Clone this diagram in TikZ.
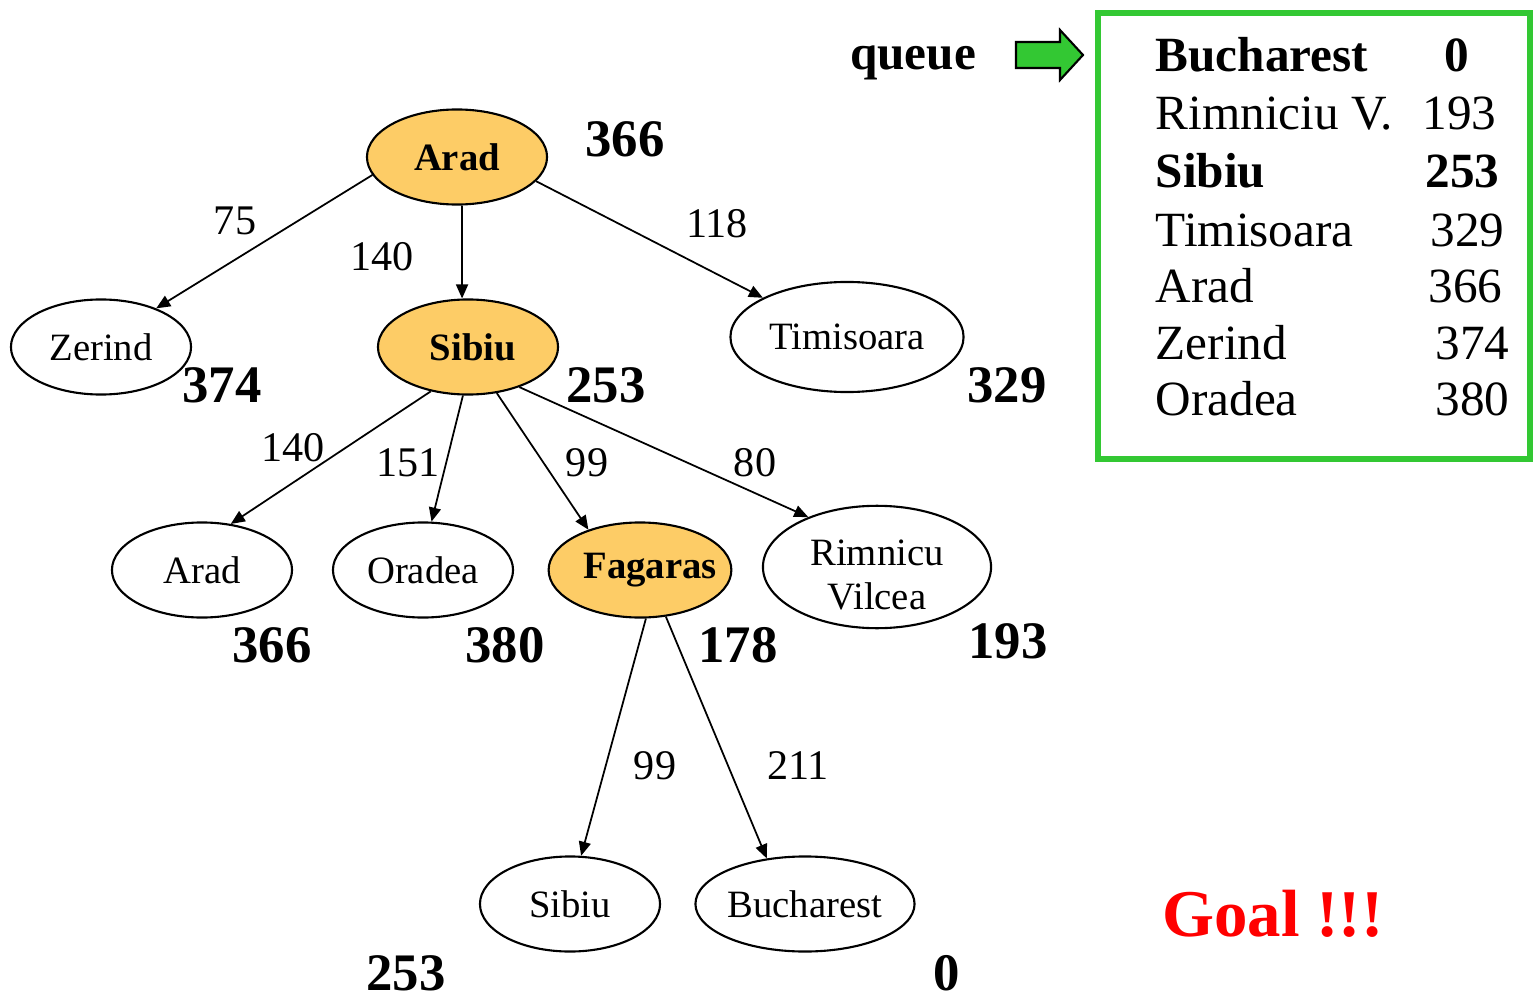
\documentclass[tikz,border=0pt]{standalone}
\usepackage{fontspec}
\setmainfont{Liberation Serif}
\usetikzlibrary{arrows.meta, shapes.geometric}
\definecolor{nodeorange}{RGB}{253,204,102}
\definecolor{queuegreen}{RGB}{51,200,51}
\tikzset{
  city/.style={draw, ellipse, line width=0.6pt, inner sep=0pt,
    minimum width=1.8cm, minimum height=0.95cm, align=center,
    font=\fontsize{11}{12.5}\selectfont},
  expanded/.style={city, fill=nodeorange, font=\fontsize{11}{12.5}\selectfont\bfseries},
  hval/.style={font=\fontsize{15}{15}\selectfont\bfseries},
  cost/.style={font=\fontsize{12}{12}\selectfont},
  edge/.style={-{Triangle[length=4pt,width=3.4pt]}, line width=0.5pt},
  qname/.style={anchor=base west, inner sep=0pt, font=\fontsize{14}{14}\selectfont},
  qval/.style={anchor=base east, inner sep=0pt, font=\fontsize{14}{14}\selectfont},
}
\begin{document}
\begin{tikzpicture}[x=0.01cm, y=-0.01cm]

    \useasboundingbox (0,0) rectangle (1533,997);

    % search tree
    \node[expanded] (arad) at (457,157) {Arad};
    \node[city] (zerind) at (101,347) {Zerind};
    \node[expanded] (sibiu) at (468,347) {~Sibiu};
    \node[city, minimum width=2.33cm, minimum height=1.1cm] (timisoara) at (847,337) {Timisoara};
    \node[city] (arad2) at (202,570) {Arad};
    \node[city] (oradea) at (423,570) {Oradea};
    \node[expanded, inner xsep=-0.12cm] (fagaras) at (640,570) {\hspace*{0.2cm}Fagaras};
    \node[city, minimum width=2.28cm, minimum height=1.21cm] (rimnicu) at (877,567) {\rule{0pt}{0.42cm}Rimnicu\\Vilcea};
    \node[city] (sibiu3) at (570,904) {Sibiu};
    \node[city, minimum width=2.19cm] (bucharest) at (805,904) {Bucharest};

    \draw[edge] (arad.192) -- (zerind.35);
    \draw[edge] (arad.276) -- (sibiu.97);
    \draw[edge] (arad.343) -- (timisoara.155);
    \draw[edge] (sibiu.230) -- (arad2.58);
    \draw[edge] (sibiu.264) -- (oradea.80);
    \draw[edge] (sibiu.302) -- (fagaras.142);
    \draw[edge] (sibiu.322) -- (rimnicu.144);
    \draw[edge] (fagaras.277) -- (sibiu3.77);
    \draw[edge] (fagaras.299) -- (bucharest.130);

    % step costs
    \node[cost] (c75) at (235,221) {75};
    \node[cost] (c140) at (382,257) {140};
    \node[cost] (c118) at (717,224) {118};
    \node[cost] (c140b) at (293,448) {140};
    \node[cost] (c151) at (408,463) {151};
    \node[cost] (c99) at (587,463) {99};
    \node[cost] (c80) at (755,463) {80};
    \node[cost] (c99b) at (655,766) {99};
    \node[cost] (c211) at (798,766) {211};

    % straight-line distances
    \node[hval] (h1) at (625,139) {366};
    \node[hval] (h2) at (222,385) {374};
    \node[hval] (h3) at (606,385) {253};
    \node[hval] (h4) at (1007,385) {329};
    \node[hval] (h5) at (272,645) {366};
    \node[hval] (h6) at (505,645) {380};
    \node[hval] (h7) at (738,645) {178};
    \node[hval] (h8) at (1008,641) {193};
    \node[hval] (h9) at (406,973) {253};
    \node[hval] (h10) at (947,973) {0};

    % queue
    \node[font=\fontsize{14}{14}\selectfont\bfseries, anchor=base] (queue) at (913,70) {queue};
    \draw[fill=queuegreen, line width=0.6pt] (1016,42) -- (1060,42) -- (1060,30) -- (1083,55)
        -- (1060,80) -- (1060,68) -- (1016,68) -- cycle;
    \draw[queuegreen, line width=1.7pt] (1098,13) rectangle (1530,459);

    \node[qname, font=\fontsize{14}{14}\selectfont\bfseries] (q1) at (1155,72) {Bucharest};
    \node[qval, font=\fontsize{14}{14}\selectfont\bfseries] (v1) at (1470,72) {0};
    \node[qname] (q2) at (1155,130) {Rimniciu V.};
    \node[qval] (v2) at (1497,130) {193};
    \node[qname, font=\fontsize{14}{14}\selectfont\bfseries] (q3) at (1155,188) {Sibiu};
    \node[qval, font=\fontsize{14}{14}\selectfont\bfseries] (v3) at (1500,188) {253};
    \node[qname] (q4) at (1155,246) {Timisoara};
    \node[qval] (v4) at (1505,246) {329};
    \node[qname] (q5) at (1155,303) {Arad};
    \node[qval] (v5) at (1503,303) {366};
    \node[qname] (q6) at (1155,359) {Zerind};
    \node[qval] (v6) at (1510,359) {374};
    \node[qname] (q7) at (1155,416) {Oradea};
    \node[qval] (v7) at (1510,416) {380};

    \node[red, font=\fontsize{19}{19}\selectfont\bfseries] (goal) at (1273,914) {Goal !!!};

\end{tikzpicture}
\end{document}
